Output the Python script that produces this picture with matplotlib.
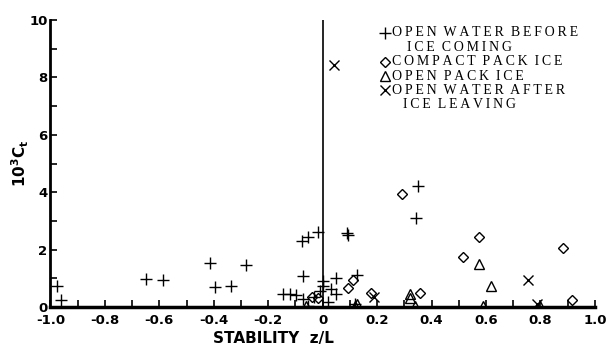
import matplotlib.pyplot as plt
from matplotlib.ticker import MultipleLocator
from matplotlib.lines import Line2D

# datos: estabilidad z/L y 10^3 Ct
before_x = [-0.974, -0.96, -0.647, -0.585, -0.415, -0.397, -0.335, -0.28,
            -0.077, -0.055, -0.018, -0.073, -0.147, -0.121, -0.096, -0.073,
            0.0, 0.0, -0.01, 0.03, 0.05, 0.05, 0.02, 0.088, 0.095, 0.125,
            0.12, 0.35, 0.343, -0.03, -0.055]
before_y = [0.73, 0.24, 0.98, 0.94, 1.54, 0.7, 0.73, 1.47,
            2.3, 2.45, 2.6, 1.08, 0.45, 0.45, 0.4, 0.28,
            0.9, 0.73, 0.56, 0.63, 1.0, 0.45, 0.17, 2.58, 2.5, 1.1,
            0.1, 4.2, 3.1, 0.35, 0.03]

compact_x = [0.29, 0.573, 0.515, 0.882, 0.915, 0.357, 0.177, 0.11, 0.092, -0.018, -0.04]
compact_y = [3.95, 2.45, 1.75, 2.05, 0.25, 0.5, 0.5, 0.95, 0.66, 0.3, 0.35]

openpack_x = [0.573, 0.617, 0.32, 0.32, 0.338, 0.59, 0.125, 0.8, -0.06, 0.12]
openpack_y = [1.5, 0.73, 0.45, 0.32, 0.05, 0.03, 0.1, 0.05, 0.05, 0.05]

after_x = [0.04, 0.755, 0.187, 0.787]
after_y = [8.45, 0.95, 0.35, 0.12]

xticks = [-1.0, -0.8, -0.6, -0.4, -0.2, 0.0, 0.2, 0.4, 0.6, 0.8, 1.0]
xlabels = ['-1.0', '-0.8', '-0.6', '-0.4', '-0.2', '0', '0.2', '0.4', '0.6', '0.8', '1.0']
yticks = [0, 2, 4, 6, 8, 10]

fig = plt.figure(figsize=(6.07, 3.52), dpi=100)
ax = fig.add_axes([0.083, 0.128, 0.897, 0.815])

kw = dict(linestyle='none', color='black', markerfacecolor='none', mew=1.0)
ms = {'+': 9, 'D': 5.5, '^': 6.5, 'x': 7}
ax.plot(before_x, before_y, marker='+', ms=ms['+'], **kw)
ax.plot(compact_x, compact_y, marker='D', ms=ms['D'], **kw)
ax.plot(openpack_x, openpack_y, marker='^', ms=ms['^'], **kw)
ax.plot(after_x, after_y, marker='x', ms=ms['x'], **kw)

# linea vertical en z/L = 0
ax.plot([0, 0], [0, 10], color='black', lw=1.2)

ax.set_xlim(-1.0, 1.0)
ax.set_ylim(0, 10)
for s in ['top', 'right']:
    ax.spines[s].set_visible(False)
ax.spines['left'].set_linewidth(2.0)
ax.spines['bottom'].set_linewidth(2.5)

ax.set_xticks(xticks)
ax.set_xticklabels(xlabels)
ax.xaxis.set_minor_locator(MultipleLocator(0.1))
ax.set_yticks(yticks)
ax.yaxis.set_minor_locator(MultipleLocator(1))
ax.tick_params(which='both', direction='in', length=5, width=1.2)
ax.tick_params(axis='x', pad=5)
ax.tick_params(axis='y', pad=2)
for lab in ax.get_xticklabels() + ax.get_yticklabels():
    lab.set_fontweight('bold')
    lab.set_fontsize(9.5)

ax.set_xlabel('STABILITY  z/L', fontsize=11, fontweight='bold', labelpad=3)
ax.xaxis.set_label_coords(0.41, -0.085)
ax.set_ylabel(r'$\mathbf{10^3C_t}$', fontsize=11)
ax.yaxis.set_label_coords(-0.035, 0.5)

# leyenda dibujada a mano, con letras espaciadas
def spaced(s):
    return '  '.join('\u2009'.join(w) for w in s.split())

legend_items = [
    ('+', 'OPEN WATER BEFORE', 'ICE COMING'),
    ('D', 'COMPACT PACK ICE', None),
    ('^', 'OPEN PACK ICE', None),
    ('x', 'OPEN WATER AFTER', 'ICE LEAVING'),
]
yy = 0.955
for mk, l1, l2 in legend_items:
    ax.add_line(Line2D([0.615], [yy], transform=ax.transAxes, marker=mk,
                       ms=ms[mk], **kw))
    ax.text(0.627, yy, spaced(l1), transform=ax.transAxes, va='center', ha='left',
            family='Liberation Serif', fontsize=10)
    yy -= 0.05
    if l2:
        ax.text(0.752, yy, spaced(l2), transform=ax.transAxes, va='center', ha='center',
                family='Liberation Serif', fontsize=10)
        yy -= 0.05

fig.savefig('out.png', dpi=100)
